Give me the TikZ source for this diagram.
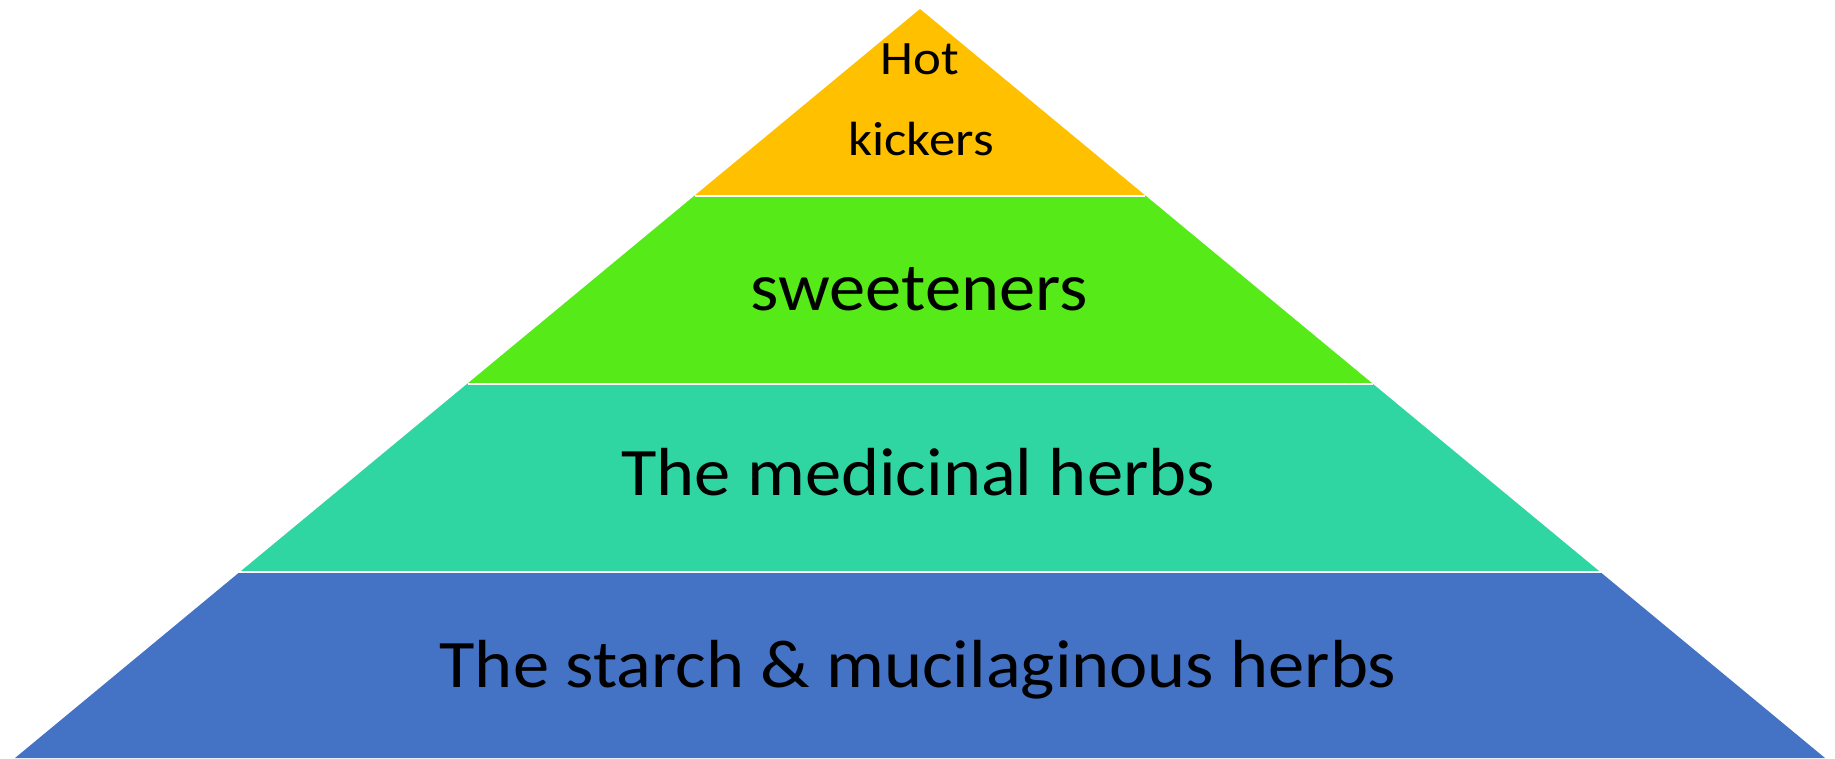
\documentclass[tikz,border=0pt]{standalone}
\usepackage{fontspec}
\setmainfont{Carlito}
\usetikzlibrary{calc}

\definecolor{hotgold}{HTML}{FFC000}
\definecolor{sweetgreen}{HTML}{55EA18}
\definecolor{medteal}{HTML}{30D6A2}
\definecolor{starchblue}{HTML}{4472C4}

\newcommand{\widetext}[2]{\scalebox{#1}[1]{#2}}

\begin{document}
\begin{tikzpicture}[
    x=1pt, y=-1pt,
    band/.style={fill=#1, draw=none},
    sep/.style={draw=white, line width=2pt},
    lbl/.style={anchor=base, inner sep=0pt, text=black,
        font=\fontsize{68}{80}\selectfont},
    toplbl/.style={anchor=base, inner sep=0pt, text=black,
        font=\fontsize{48}{56}\selectfont}
]
\useasboundingbox (0,0) rectangle (1835,758);

%% ══════════════════════════════ OUTLINE ══════════════════════════════
\coordinate (apex) at (920,9);
\coordinate (bl) at (15,758);
\coordinate (br) at (1825,758);

%% band edges along both sides
\foreach \f/\n in {0.249/a, 0.5/b, 0.752/c}{
    \coordinate (l\n) at ($(apex)!\f!(bl)$);
    \coordinate (r\n) at ($(apex)!\f!(br)$);
}

%% ══════════════════════════════ BANDS ══════════════════════════════
\fill[band=hotgold]    (apex) -- (la) -- (ra) -- cycle;
\fill[band=sweetgreen] (la) -- (lb) -- (rb) -- (ra) -- cycle;
\fill[band=medteal]    (lb) -- (lc) -- (rc) -- (rb) -- cycle;
\fill[band=starchblue] (lc) -- (bl) -- (br) -- (rc) -- cycle;

\draw[sep] (la) -- (ra);
\draw[sep] (lb) -- (rb);
\draw[sep] (lc) -- (rc);

%% ══════════════════════════════ LABELS ══════════════════════════════
\node[toplbl] (hot)     at (920,74)  {\widetext{1.1}{Hot}};
\node[toplbl] (kickers) at (921,155) {\widetext{1.1}{kickers}};
\node[lbl]    (sweet)   at (919,310) {\widetext{1.066}{sweeteners}};
\node[lbl]    (medic)   at (918,495) {\widetext{1.066}{The medicinal herbs}};
\node[lbl]    (starch)  at (918,687) {\widetext{1.066}{The starch \& mucilaginous herbs}};

\end{tikzpicture}
\end{document}
